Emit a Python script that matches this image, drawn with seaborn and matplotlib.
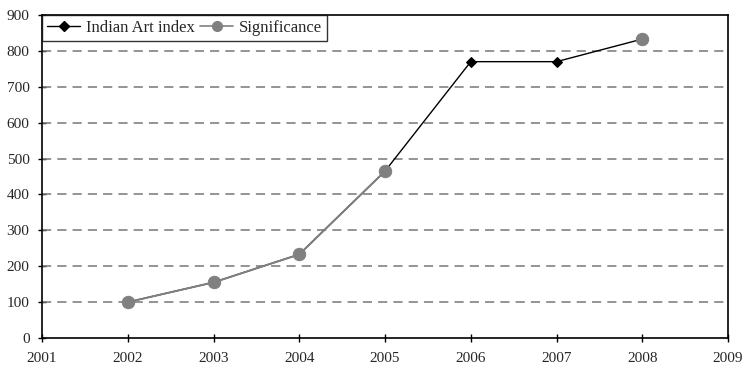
import numpy as np
import pandas as pd
import matplotlib
matplotlib.use("Agg")
import matplotlib.pyplot as plt
from matplotlib.lines import Line2D
import seaborn as sns

years = [2002, 2003, 2004, 2005, 2006, 2007, 2008]
art_index = [100, 155, 233, 465, 770, 770, 833]
significance = [100, 155, 233, 465, np.nan, np.nan, 833]

sns.set_style("white")
plt.rcParams["font.family"] = ["Liberation Serif", "DejaVu Serif"]

fig = plt.figure(figsize=(7.45, 3.69), dpi=100)
ax = fig.add_axes([0.0564, 0.084, 0.9208, 0.8753])

df = pd.DataFrame({"year": years, "art": art_index, "sig": significance})

sns.lineplot(data=df, x="year", y="art", ax=ax, color="black", lw=1.0,
             marker="D", markersize=5, markeredgecolor="black",
             zorder=3, legend=False)

# gray series: connected only across the consecutive known points
sig_df = df.dropna(subset=["sig"])
seg = df[df["year"] <= 2005]
sns.lineplot(data=seg, x="year", y="sig", ax=ax, color="#808080", lw=1.4,
             zorder=4, legend=False)
sns.scatterplot(data=sig_df, x="year", y="sig", ax=ax, color="#808080",
                s=80, edgecolor="#808080", zorder=5, legend=False)

ax.set_xlim(2001, 2009)
ax.set_ylim(0, 900)
ax.set_xticks(range(2001, 2010))
ax.set_yticks(range(0, 1000, 100))
ax.set_xlabel("")
ax.set_ylabel("")
ax.tick_params(axis="both", labelsize=11, direction="inout", length=6,
               width=1, color="black", left=True, bottom=True)
ax.tick_params(axis="y", pad=6)
ax.tick_params(axis="x", pad=7)

for y in range(100, 900, 100):
    ax.axhline(y, color="#777777", lw=1.1, ls=(0, (6, 4)), zorder=1)

for sp in ax.spines.values():
    sp.set_color("black")
    sp.set_linewidth(1.2)

handles = [
    Line2D([], [], color="black", lw=1.0, marker="D", markersize=5),
    Line2D([], [], color="#808080", lw=1.2, marker="o", markersize=7),
]
leg = ax.legend(handles, ["Indian Art index", "Significance"], loc="upper left",
                bbox_to_anchor=(0.0, 1.0), ncol=2, frameon=True, fancybox=False,
                edgecolor="black", fontsize=12, handlelength=2.0,
                handletextpad=0.35, columnspacing=0.3, borderpad=0.3,
                borderaxespad=0)
leg.get_frame().set_linewidth(1.0)

fig.savefig("out.png", dpi=100)
